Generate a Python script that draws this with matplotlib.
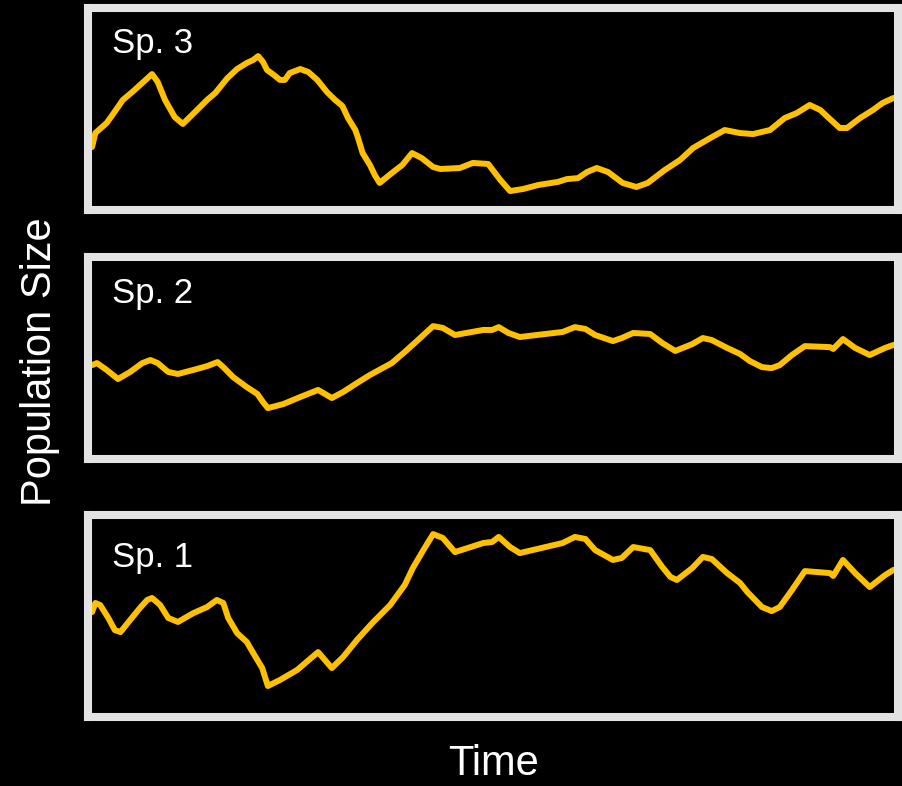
import matplotlib
matplotlib.use('Agg')
import matplotlib.pyplot as plt

# Sp. 3 (top panel)
t3 = [0.5, 0.9, 2.3, 3.0, 4.3, 5.6, 7.9, 8.6, 9.5, 10.7, 11.7, 13.2, 14.7, 15.7, 17.2,
      18.4, 19.6, 20.4, 21.0, 21.6, 22.1, 22.8, 23.7, 24.3, 24.9, 26.2, 27.2, 28.3, 29.5,
      30.5, 31.4, 32.1, 33.0, 33.3, 33.9, 34.8, 35.4, 36.0, 37.5, 38.8, 40.0, 41.2, 42.6,
      43.5, 45.9, 47.5, 49.4, 50.9, 52.1, 53.7, 55.6, 58.0, 59.1, 60.5, 61.6, 62.8, 64.2,
      66.0, 67.7, 69.1, 71.2, 73.1, 74.7, 76.8, 78.6, 80.5, 82.1, 84.2, 86.0, 87.5, 89.1,
      90.4, 91.6, 92.8, 93.7, 95.3, 96.9, 98.1, 99.4, 100.5]
sp3 = [31.2, 38.1, 43.1, 47.0, 54.5, 58.9, 67.3, 63.4, 54.5, 46.0, 42.6, 48.5, 54.5, 57.9, 65.3,
       69.8, 72.8, 74.3, 76.2, 73.3, 69.3, 67.3, 64.4, 64.4, 67.8, 69.8, 68.3, 64.4, 58.4,
       54.5, 51.5, 45.5, 39.6, 36.1, 28.2, 22.3, 17.3, 13.4, 18.3, 22.3, 28.2, 25.7, 21.3,
       20.3, 20.8, 23.3, 22.8, 14.9, 9.4, 10.4, 12.4, 13.9, 15.3, 15.8, 18.8, 20.8, 18.8,
       13.4, 11.4, 13.4, 19.8, 24.8, 30.7, 35.6, 39.6, 38.1, 37.6, 39.6, 45.5, 48.0, 52.0,
       49.5, 45.0, 40.6, 40.6, 45.5, 49.5, 53.0, 55.4, 55.9]

# Sp. 2 (middle panel)
t2 = [0.5, 1.1, 2.3, 3.7, 5.2, 6.7, 7.7, 8.6, 9.9, 11.1, 13.0, 14.7, 16.0, 16.7, 17.9, 19.6,
      20.9, 21.6, 22.2, 24.1, 26.2, 28.4, 30.1, 31.5, 33.2, 34.8, 37.5, 39.1, 41.0, 42.6,
      43.8, 45.3, 48.8, 49.9, 50.7, 51.9, 53.3, 58.6, 60.1, 61.4, 62.6, 64.8, 65.9, 67.3,
      69.4, 70.9, 72.5, 74.6, 75.9, 77.0, 78.9, 80.5, 81.7, 83.2, 84.4, 85.4, 86.9, 88.5,
      91.6, 92.0, 93.2, 94.7, 96.5, 98.4, 99.4, 100.5]
sp2 = [46.5, 47.5, 44.1, 39.6, 43.1, 47.5, 49.0, 47.5, 43.1, 42.1, 44.1, 46.0, 48.0, 45.5, 40.6,
       35.6, 32.2, 28.2, 25.2, 27.2, 30.7, 34.2, 30.2, 33.2, 37.6, 41.6, 47.5, 53.0, 59.9,
       65.8, 64.9, 61.4, 63.9, 63.9, 65.3, 62.4, 60.4, 62.9, 65.3, 64.4, 61.4, 58.4, 59.9,
       62.4, 61.9, 57.4, 53.5, 56.9, 59.9, 58.9, 55.0, 52.0, 48.5, 45.5, 45.0, 46.5, 51.5,
       55.9, 55.4, 54.5, 59.4, 55.0, 51.5, 55.0, 56.4, 57.4]

# Sp. 1 (bottom panel)
t1 = [0.5, 0.9, 1.5, 2.5, 3.3, 4.0, 5.2, 6.4, 7.3, 7.9, 8.9, 9.9, 11.1, 13.0, 14.7, 15.9, 16.7,
      17.3, 18.4, 19.6, 20.4, 21.5, 22.2, 23.7, 25.8, 28.4, 30.1, 31.5, 33.2, 35.1, 37.3,
      39.1, 40.1, 41.4, 42.6, 43.8, 45.3, 48.8, 49.9, 50.7, 52.1, 53.3, 58.6, 60.1, 61.4,
      62.6, 64.8, 65.9, 67.3, 69.4, 70.9, 71.9, 72.7, 74.6, 75.9, 77.0, 78.9, 80.5, 81.4,
      83.2, 84.4, 85.4, 86.9, 88.5, 91.6, 92.0, 93.2, 94.7, 96.5, 98.4, 99.4, 100.5]
sp1 = [51.7, 56.2, 55.2, 48.8, 42.8, 41.8, 47.8, 53.7, 57.7, 58.7, 55.2, 48.8, 46.8, 51.2, 54.2,
       57.7, 56.2, 48.8, 41.3, 36.9, 31.4, 24.0, 15.1, 18.1, 23.0, 31.9, 24.0, 29.5, 37.9,
       46.3, 55.2, 65.1, 73.5, 82.4, 90.3, 88.4, 81.4, 85.9, 86.4, 88.9, 83.9, 80.9, 85.9,
       88.9, 87.9, 82.4, 77.5, 78.5, 83.9, 82.4, 74.0, 69.1, 67.6, 73.5, 79.0, 78.0, 71.0,
       66.1, 61.6, 54.2, 52.2, 54.2, 62.6, 72.0, 71.0, 69.6, 77.5, 71.0, 64.1, 70.0, 72.5,
       73.5]

labels = ['Sp. 3', 'Sp. 2', 'Sp. 1']
series = [(t3, sp3), (t2, sp2), (t1, sp1)]

plt.rcParams['font.family'] = ['Liberation Sans', 'DejaVu Sans']

fig = plt.figure(figsize=(9.03, 7.86), dpi=100, facecolor='black')

bottoms = [0.7328, 0.4160, 0.0884]
label_y = [0.777, 0.772, 0.74]
for i in range(3):
    ax = fig.add_axes([0.0975, bottoms[i], 0.897, 0.257])
    ax.set_facecolor('black')
    t, v = series[i]
    ax.plot(t, v, color='#FFC000', lw=4.3, solid_capstyle='round', solid_joinstyle='round')
    ax.set_xlim(0, 100)
    ax.set_ylim(0, 100)
    ax.set_xticks([])
    ax.set_yticks([])
    for s in ax.spines.values():
        s.set_color('#E3E3E3')
        s.set_linewidth(5.8)
    ax.text(0.03, label_y[i], labels[i], transform=ax.transAxes, color='white',
            fontsize=25, va='baseline', ha='left')

fig.text(0.0443, 0.5394, 'Population Size', rotation=90, color='white', fontsize=30,
         ha='center', va='center')
fig.text(0.546, 0.002, 'Time', color='white', fontsize=30, ha='center', va='bottom')

fig.savefig('out.png', dpi=100, facecolor='black')
